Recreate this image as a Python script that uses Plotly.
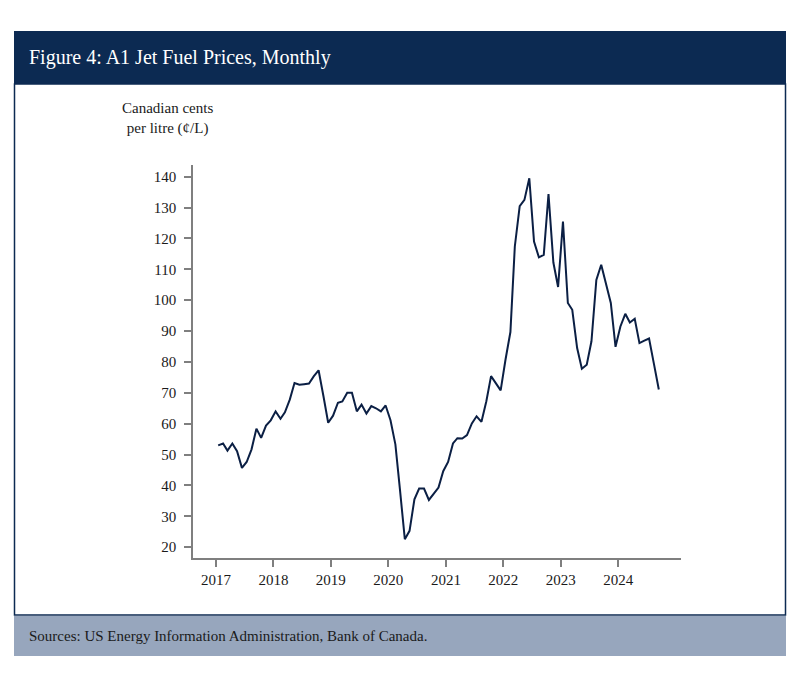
import plotly.graph_objects as go
import pandas as pd

# Monthly A1 jet fuel price, Canadian cents per litre, Jan 2017 - Sep 2024
prices_2017 = [53.0, 53.6, 51.3, 53.6, 51.1, 45.7, 47.6, 51.7, 58.4, 55.4, 59.4, 61.1]
prices_2018 = [64.0, 61.6, 63.7, 67.8, 73.2, 72.6, 72.8, 73.0, 75.4, 77.3, 68.9, 60.3]
prices_2019 = [62.6, 66.8, 67.2, 70.0, 70.0, 64.0, 66.2, 63.3, 65.7, 65.0, 64.0, 65.9]
prices_2020 = [61.1, 53.3, 38.7, 22.6, 25.3, 35.5, 39.0, 39.0, 35.3, 37.1, 39.3, 44.6]
prices_2021 = [47.6, 53.6, 55.3, 55.2, 56.3, 60.1, 62.4, 60.6, 67.3, 75.4, 73.2, 70.8]
prices_2022 = [80.8, 89.7, 117.4, 130.5, 132.5, 139.5, 119.0, 113.9, 114.7, 134.4, 112.2, 104.3]
prices_2023 = [125.5, 99.1, 96.9, 84.5, 77.8, 79.1, 86.7, 106.6, 111.5, 105.0, 99.1, 84.9]
prices_2024 = [91.5, 95.6, 92.8, 94.0, 86.1, 86.9, 87.6, 79.4, 71.1]

prices = (prices_2017 + prices_2018 + prices_2019 + prices_2020 +
          prices_2021 + prices_2022 + prices_2023 + prices_2024)
months = pd.date_range(start="2017-01-01", periods=len(prices), freq="MS") + pd.Timedelta(days=14)

year_ticks = ["2017", "2018", "2019", "2020", "2021", "2022", "2023", "2024"]
y_ticks = [20, 30, 40, 50, 60, 70, 80, 90, 100, 110, 120, 130, 140]

NAVY = "#0c2a52"
LINE = "#0b1f44"
FOOT = "#97a6bd"
AXIS = "#7f7f7f"
FONT = "Liberation Serif"

OFF = 8  # page body margin
W, H = 784, 672
L, R, T, B = 193 - OFF, 681 - OFF, 165 - OFF, 558 - OFF  # plot area in figure pixels


def px(x):
    return (x - OFF - L) / (R - L)


def py(y):
    return (B - (y - OFF)) / (B - T)


fig = go.Figure()
fig.add_trace(go.Scatter(
    x=months, y=prices, mode="lines",
    line=dict(color=LINE, width=2),
    hoverinfo="x+y", showlegend=False,
))

shapes = [
    # title bar
    dict(type="rect", xref="paper", yref="paper", x0=px(14), x1=px(786), y0=py(84), y1=py(31),
         fillcolor=NAVY, line=dict(width=0), layer="below"),
    # content frame
    dict(type="rect", xref="paper", yref="paper", x0=px(14.5), x1=px(785.5), y0=py(615), y1=py(84),
         fillcolor="white", line=dict(color=NAVY, width=1.5), layer="below"),
    # footer
    dict(type="rect", xref="paper", yref="paper", x0=px(14), x1=px(786), y0=py(656), y1=py(616),
         fillcolor=FOOT, line=dict(width=0), layer="below"),
]

annotations = [
    dict(text="Figure 4: A1 Jet Fuel Prices, Monthly", xref="paper", yref="paper",
         x=px(27), y=py(58), xanchor="left", yanchor="middle", showarrow=False,
         font=dict(family=FONT, size=20, color="white")),
    dict(text="Canadian cents<br>per litre (¢/L)", xref="paper", yref="paper",
         x=px(167), y=py(119), xanchor="center", yanchor="middle", showarrow=False,
         align="center", font=dict(family=FONT, size=15, color="#1a1a1a")),
    dict(text="Sources: US Energy Information Administration, Bank of Canada.", xref="paper", yref="paper",
         x=px(27), y=py(636), xanchor="left", yanchor="middle", showarrow=False,
         font=dict(family=FONT, size=15, color="#1a1a1a")),
]

fig.update_layout(
    width=W, height=H,
    margin=dict(l=L, r=W - R, t=T, b=H - B, pad=0),
    paper_bgcolor="white", plot_bgcolor="rgba(0,0,0,0)",
    font=dict(family=FONT, size=14, color="#1a1a1a"),
    shapes=shapes, annotations=annotations,
    xaxis=dict(
        type="date",
        range=["2016-08-08", "2025-02-03"],
        tickvals=[f"{y}-01-01" for y in year_ticks], ticktext=year_ticks,
        showgrid=False, zeroline=False,
        showline=True, linecolor=AXIS, linewidth=1.5,
        ticks="outside", ticklen=7, tickwidth=1.5, tickcolor=AXIS,
        tickfont=dict(family=FONT, size=15, color="#1a1a1a"),
    ),
    yaxis=dict(
        range=[16.5, 143.8],
        tickvals=y_ticks,
        showgrid=False, zeroline=False,
        showline=True, linecolor=AXIS, linewidth=1.5,
        ticks="outside", ticklen=7, tickwidth=1.5, tickcolor=AXIS,
        ticklabelstandoff=5,
        tickfont=dict(family=FONT, size=15, color="#1a1a1a"),
    ),
)

fig.write_html("out.html")
